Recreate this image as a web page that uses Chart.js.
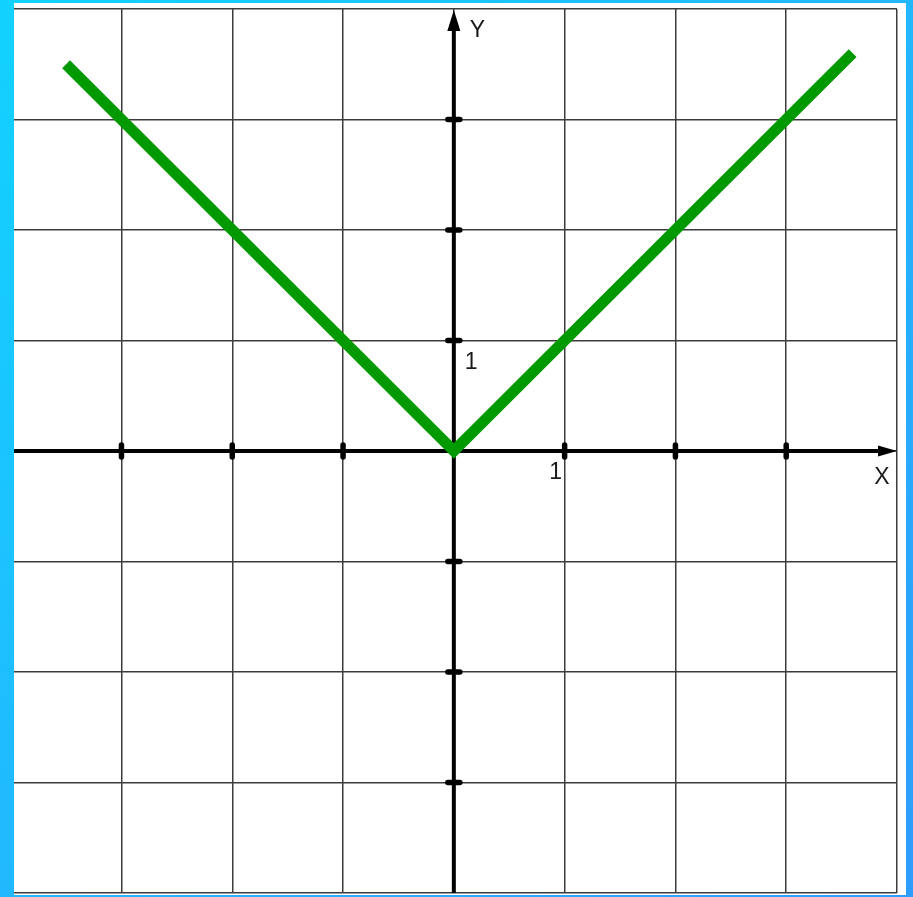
<!DOCTYPE html>
<html>
<head>
<meta charset="utf-8">
<script src="https://cdn.jsdelivr.net/npm/chart.js@4.4.1/dist/chart.umd.min.js"></script>
<style>
  html, body { margin: 0; padding: 0; }
  body {
    width: 913px; height: 897px; overflow: hidden;
    background: linear-gradient(135deg, #12d2ff 0%, #22b8ff 50%, #2e9cff 100%);
  }
  #box {
    position: absolute; left: 14px; top: 3px;
    width: 892px; height: 892px; background: #fff;
  }
</style>
</head>
<body>
<div id="box"><canvas id="graph"></canvas></div>
<script>
// y = |x|
var lineX = [-3.5, 0, 3.6];
var lineY = [3.5, 0, 3.6];

// grid positions
var xTicks = [-3, -2, -1, 0, 1, 2, 3, 4];
var yTicks = [-4, -3, -2, -1, 0, 1, 2, 3, 4];

// small marks on the axes and the "1" labels
var xMarks = [-3, -2, -1, 1, 2, 3];
var yMarks = [-3, -2, -1, 1, 2, 3];
var unitLabel = '1';
var xName = 'X';
var yName = 'Y';

var points = lineX.map(function (v, i) { return { x: v, y: lineY[i] }; });

// draws the two axes with arrows, tick marks and labels
var axesPlugin = {
  id: 'axes',
  beforeDatasetsDraw: function (chart) {
    var ctx = chart.ctx;
    var a = chart.chartArea;
    var sx = chart.scales.x, sy = chart.scales.y;
    var x0 = sx.getPixelForValue(0);
    var y0 = sy.getPixelForValue(0);

    ctx.save();
    ctx.strokeStyle = '#000';
    ctx.fillStyle = '#000';
    ctx.lineWidth = 4;

    // x axis
    ctx.beginPath();
    ctx.moveTo(a.left, y0);
    ctx.lineTo(a.right - 16, y0);
    ctx.stroke();
    ctx.beginPath();
    ctx.moveTo(a.right, y0);
    ctx.lineTo(a.right - 19, y0 - 5.5);
    ctx.lineTo(a.right - 19, y0 + 5.5);
    ctx.closePath();
    ctx.fill();

    // y axis
    ctx.beginPath();
    ctx.moveTo(x0, a.bottom);
    ctx.lineTo(x0, a.top + 18);
    ctx.stroke();
    ctx.beginPath();
    ctx.moveTo(x0, a.top + 1);
    ctx.lineTo(x0 - 6.5, a.top + 22);
    ctx.lineTo(x0 + 6.5, a.top + 22);
    ctx.closePath();
    ctx.fill();

    // tick marks
    ctx.lineWidth = 5.5;
    ctx.lineCap = 'round';
    xMarks.forEach(function (v) {
      var px = sx.getPixelForValue(v);
      ctx.beginPath();
      ctx.moveTo(px, y0 - 6);
      ctx.lineTo(px, y0 + 6);
      ctx.stroke();
    });
    yMarks.forEach(function (v) {
      var py = sy.getPixelForValue(v);
      ctx.beginPath();
      ctx.moveTo(x0 - 6, py);
      ctx.lineTo(x0 + 6, py);
      ctx.stroke();
    });

    // labels
    ctx.fillStyle = '#1a1a1a';
    ctx.font = '23px "Liberation Sans", Arial, sans-serif';
    ctx.textBaseline = 'alphabetic';
    ctx.textAlign = 'left';
    ctx.fillText(unitLabel, x0 + 11, sy.getPixelForValue(1) + 28);
    ctx.fillText(yName, x0 + 16, a.top + 28);
    ctx.textAlign = 'center';
    ctx.fillText(unitLabel, sx.getPixelForValue(1) - 9, y0 + 28);
    ctx.fillText(xName, a.right - 15, y0 + 33);
    ctx.restore();
  }
};

var ctx = document.getElementById('graph').getContext('2d');
var graph = new Chart(ctx, {
  type: 'scatter',
  data: {
    datasets: [{
      data: points,
      showLine: true,
      borderColor: '#009a00',
      borderWidth: 11,
      borderCapStyle: 'butt',
      borderJoinStyle: 'miter',
      pointRadius: 0,
      tension: 0,
      clip: false
    }]
  },
  options: {
    responsive: true,
    maintainAspectRatio: false,
    animation: false,
    layout: {
      padding: { top: 6, right: 9, bottom: 2, left: 0 }
    },
    scales: {
      x: {
        type: 'linear',
        min: -3.97,
        max: 4,
        afterBuildTicks: function (scale) {
          scale.ticks = xTicks.map(function (v) { return { value: v }; });
        },
        ticks: { display: false },
        grid: { color: '#3c3c3c', lineWidth: 1.5, drawTicks: false },
        border: { display: false }
      },
      y: {
        type: 'linear',
        min: -4,
        max: 4,
        afterBuildTicks: function (scale) {
          scale.ticks = yTicks.map(function (v) { return { value: v }; });
        },
        ticks: { display: false },
        grid: { color: '#3c3c3c', lineWidth: 1.5, drawTicks: false },
        border: { display: false }
      }
    },
    plugins: {
      legend: { display: false },
      tooltip: { enabled: false }
    }
  },
  plugins: [axesPlugin]
});
</script>
</body>
</html>
